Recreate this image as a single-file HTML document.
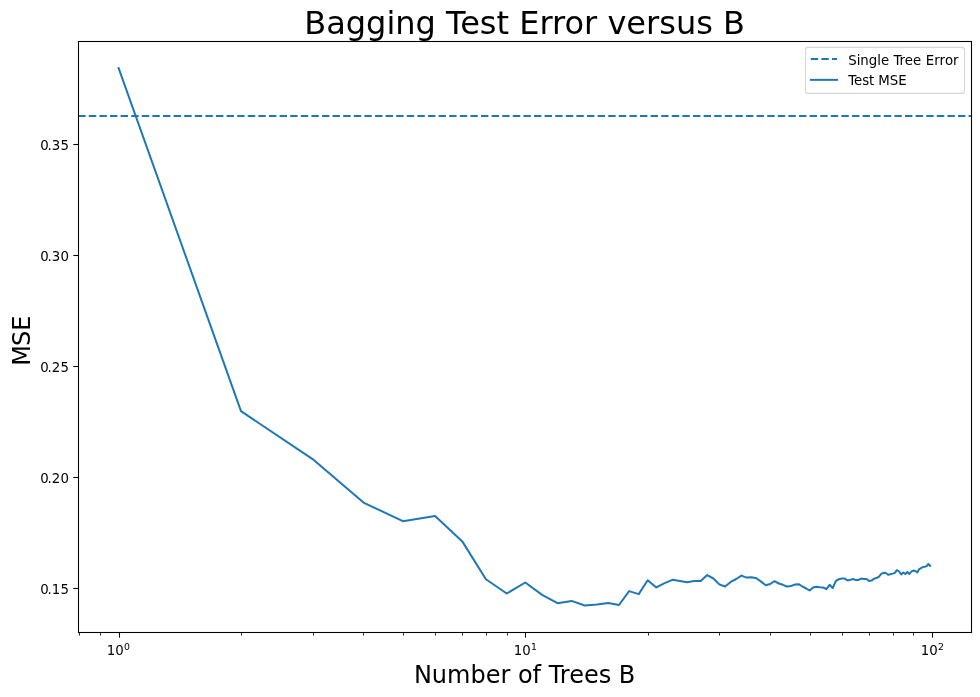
<!DOCTYPE html>
<html lang="en"><head><meta charset="utf-8"><title>Bagging Test Error versus B</title>
<style>
html,body{margin:0;padding:0;background:#fff;}
body{width:980px;height:697px;overflow:hidden;}
svg{display:block;}
text{font-family:"DejaVu Sans","Liberation Sans",sans-serif;fill:#000;}
.tk{font-size:13.33px;}
.sup{font-size:9.33px;}
.lb{font-size:24px;}
.tt{font-size:32px;}
</style></head><body>
<svg xmlns="http://www.w3.org/2000/svg" width="980" height="697" viewBox="0 0 980 697">
<rect x="0" y="0" width="980" height="697" fill="#fff"/>
<clipPath id="ax"><rect x="78.5" y="41.5" width="893.0" height="591.0"/></clipPath>
<g clip-path="url(#ax)" fill="none" stroke="#1f77b4" stroke-width="2">
<line x1="78.2" y1="115.9" x2="971.5" y2="115.9" stroke-dasharray="7.4 3.2"/>
<polyline points="118.6,68.0 241.0,411.2 312.6,459.1 363.5,502.6 402.9,521.2 435.1,516.0 462.3,541.4 485.9,579.2 506.7,593.5 525.3,582.5 542.1,594.9 557.5,603.2 571.6,600.9 584.7,605.5 596.9,604.5 608.3,602.9 619.0,605.0 629.1,591.1 638.7,594.1 647.7,580.2 656.3,587.4 664.6,583.1 672.4,579.8 679.9,580.9 687.1,582.2 694.1,581.1 700.7,580.9 707.2,575.1 713.4,578.5 719.3,584.4 725.1,586.5 730.7,581.9 736.2,579.0 741.5,575.6 746.6,577.6 751.5,577.2 756.4,578.2 761.1,581.6 765.7,585.2 770.2,584.0 774.5,581.2 778.8,583.5 782.9,584.8 787.0,586.5 791.0,586.0 794.8,584.6 798.6,584.2 802.4,586.5 806.0,588.4 809.6,590.5 813.1,587.5 816.5,586.8 819.9,587.2 823.2,587.5 826.4,589.1 829.6,584.8 832.7,588.0 835.8,581.2 838.8,579.2 841.8,578.5 844.7,578.6 847.6,580.5 850.4,579.8 853.2,579.0 855.9,580.1 858.6,579.9 861.3,578.6 863.9,579.0 866.5,579.0 869.0,580.9 871.5,580.6 874.0,578.8 876.4,578.0 878.8,576.9 881.2,573.8 883.5,572.8 885.8,573.0 888.1,574.8 890.4,574.2 892.6,573.6 894.8,572.9 896.9,570.2 899.1,571.5 901.2,574.4 903.3,572.5 905.4,573.9 907.4,572.0 909.4,574.0 911.4,571.5 913.4,570.6 915.3,571.0 917.3,572.4 919.2,569.1 921.1,568.2 922.9,567.0 924.8,566.8 926.6,566.1 928.4,564.0 930.2,565.9" stroke-linejoin="round" stroke-linecap="square"/>
</g>
<g stroke="#000" stroke-width="1.067" fill="none">
<line x1="119.5" y1="632.5" x2="119.5" y2="637.67"/>
<line x1="525.5" y1="632.5" x2="525.5" y2="637.67"/>
<line x1="932.5" y1="632.5" x2="932.5" y2="637.67"/>
<line x1="73.33" y1="144.5" x2="78.5" y2="144.5"/>
<line x1="73.33" y1="255.5" x2="78.5" y2="255.5"/>
<line x1="73.33" y1="366.5" x2="78.5" y2="366.5"/>
<line x1="73.33" y1="477.5" x2="78.5" y2="477.5"/>
<line x1="73.33" y1="588.5" x2="78.5" y2="588.5"/>
</g>
<g stroke="#000" stroke-width="0.8" fill="none">
<line x1="79.5" y1="632.5" x2="79.5" y2="635.67"/>
<line x1="100.5" y1="632.5" x2="100.5" y2="635.67"/>
<line x1="241.5" y1="632.5" x2="241.5" y2="635.67"/>
<line x1="313.5" y1="632.5" x2="313.5" y2="635.67"/>
<line x1="363.5" y1="632.5" x2="363.5" y2="635.67"/>
<line x1="403.5" y1="632.5" x2="403.5" y2="635.67"/>
<line x1="435.5" y1="632.5" x2="435.5" y2="635.67"/>
<line x1="462.5" y1="632.5" x2="462.5" y2="635.67"/>
<line x1="486.5" y1="632.5" x2="486.5" y2="635.67"/>
<line x1="507.5" y1="632.5" x2="507.5" y2="635.67"/>
<line x1="648.5" y1="632.5" x2="648.5" y2="635.67"/>
<line x1="719.5" y1="632.5" x2="719.5" y2="635.67"/>
<line x1="770.5" y1="632.5" x2="770.5" y2="635.67"/>
<line x1="810.5" y1="632.5" x2="810.5" y2="635.67"/>
<line x1="842.5" y1="632.5" x2="842.5" y2="635.67"/>
<line x1="869.5" y1="632.5" x2="869.5" y2="635.67"/>
<line x1="893.5" y1="632.5" x2="893.5" y2="635.67"/>
<line x1="913.5" y1="632.5" x2="913.5" y2="635.67"/>
</g>
<rect x="78.5" y="41.5" width="893.0" height="591.0" fill="none" stroke="#000" stroke-width="1.067"/>
<text class="tk" x="40.15 47.4 51.75 60.4" y="149.6">0.35</text>
<text class="tk" x="40.15 47.4 51.75 60.4" y="260.6">0.30</text>
<text class="tk" x="40.15 47.4 51.75 60.4" y="371.6">0.25</text>
<text class="tk" x="40.15 47.4 51.75 60.4" y="482.6">0.20</text>
<text class="tk" x="40.15 47.4 51.75 60.4" y="593.6">0.15</text>
<text class="tk" x="106.75" y="655">10</text><text class="sup" x="124.0" y="649.8">0</text>
<text class="tk" x="513.8" y="655">10</text><text class="sup" x="530.9" y="649.8">1</text>
<text class="tk" x="920.7" y="655">10</text><text class="sup" x="937.9" y="649.8">2</text>
<text class="tt" x="524.6" y="33.5" text-anchor="middle">Bagging Test Error versus B</text>
<text class="lb" x="524.6" y="683.1" text-anchor="middle">Number of Trees B</text>
<text class="lb" transform="translate(30.4,340.2) rotate(-90)" x="-25.55 -5.8 9.45">MSE</text>
<rect x="805.5" y="47.4" width="159" height="46" rx="2.7" ry="2.7" fill="#fff" fill-opacity="0.8" stroke="#ccc" stroke-opacity="0.8" stroke-width="1.067"/>
<g fill="none" stroke="#1f77b4" stroke-width="2">
<line x1="810.8" y1="59" x2="837.0" y2="59" stroke-dasharray="7.4 3.2"/>
<line x1="810.9" y1="79.85" x2="837.1" y2="79.85" stroke-linecap="square"/>
</g>
<text class="tk" x="848.2" y="65.3">Single Tree <tspan dx="0.4" letter-spacing="0.07px">Error</tspan></text>
<text class="tk" x="848.2" y="84.6" letter-spacing="-0.06px">Test MSE</text>
</svg></body></html>
